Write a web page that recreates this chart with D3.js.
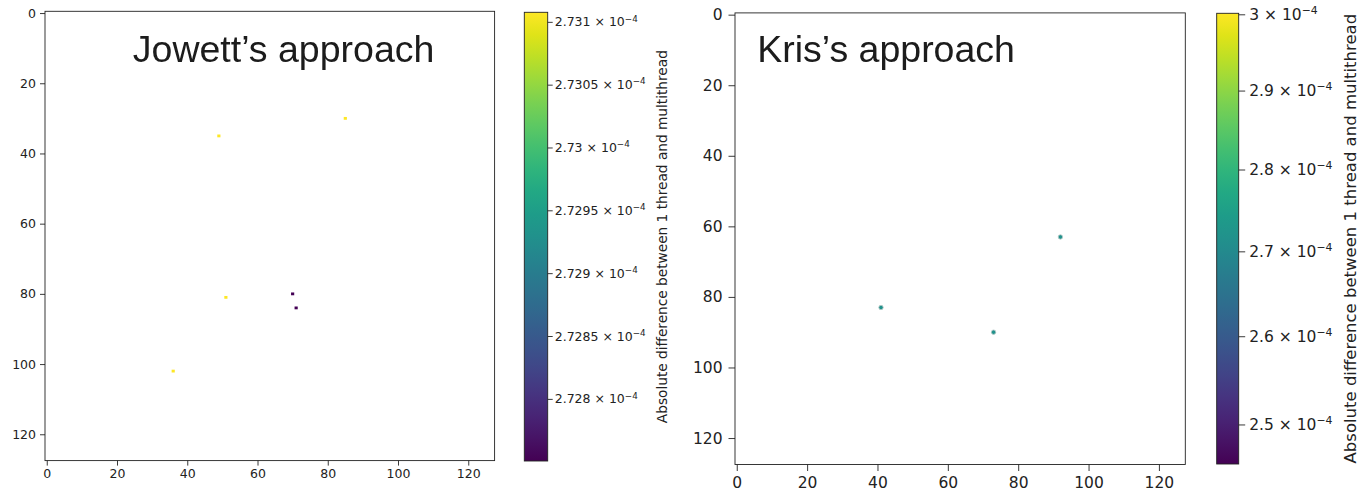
<!DOCTYPE html>
<html>
<head>
<meta charset="utf-8">
<script src="https://cdn.jsdelivr.net/npm/d3@7"></script>
<style>
  body { margin: 0; background: #fff; }
  svg { display: block; }
  text { font-family: "DejaVu Sans", sans-serif; fill: #222; }
  .title { font-family: "Liberation Sans", Arial, sans-serif; fill: #1a1a1a; }
</style>
</head>
<body>
<svg id="chart" width="1372" height="493"></svg>
<script>
// image size (pixels) and tick values
var gridSize = 128;
var axisTicks = [0, 20, 40, 60, 80, 100, 120];

// Jowett: non-zero pixels [col, row, value]
var jowettCols = [49, 85, 51, 36, 70, 71];
var jowettRows = [35, 30, 81, 102, 80, 84];
var jowettVals = [2.73108e-4, 2.73108e-4, 2.73108e-4, 2.73108e-4, 2.72751e-4, 2.72751e-4];
var jowettRange = [2.72751e-4, 2.73108e-4];
var jowettCbTicks = [2.728, 2.7285, 2.729, 2.7295, 2.73, 2.7305, 2.731];

// Kris: non-zero pixels
var krisCols = [41, 73, 92];
var krisRows = [83, 90, 63];
var krisVals = [2.72e-4, 2.72e-4, 2.72e-4];
var krisRange = [2.457e-4, 3.002e-4];
var krisCbTicks = [2.5, 2.6, 2.7, 2.8, 2.9, 3];

var cbLabel = "Absolute difference between 1 thread and multithread";

var svg = d3.select("#chart");

// shared viridis gradient for the colorbars
var defs = svg.append("defs");
var grad = defs.append("linearGradient").attr("id", "viridis")
    .attr("x1", 0).attr("y1", 1).attr("x2", 0).attr("y2", 0);
d3.range(0, 1.0001, 0.05).forEach(function(t) {
  grad.append("stop").attr("offset", t).attr("stop-color", d3.interpolateViridis(t));
});
defs.append("filter").attr("id", "soft")
  .append("feGaussianBlur").attr("stdDeviation", 0.55);

function drawPanel(p) {
  var x = d3.scaleLinear().domain([-0.5, gridSize - 0.5]).range([p.left, p.right]);
  var y = d3.scaleLinear().domain([-0.5, gridSize - 0.5]).range([p.top, p.bottom]);
  var g = svg.append("g");

  // title is part of the picture
  g.append("text").attr("class", "title")
    .attr("x", x(p.titleX)).attr("y", y(p.titleY))
    .attr("filter", "url(#soft)")
    .style("font-size", "37.5px")
    .text(p.title);

  var color = d3.scaleSequentialLog(d3.interpolateViridis).domain(p.range);
  var pts = p.cols.map(function(c, i) { return {c: c, r: p.rows[i], v: p.vals[i]}; });

  if (p.dots) {
    g.selectAll("circle.pt").data(pts).enter().append("circle")
      .attr("cx", function(d) { return x(d.c); })
      .attr("cy", function(d) { return y(d.r); })
      .attr("r", 2.2)
      .attr("fill", function(d) { return color(d.v); })
      .attr("stroke", "#b9c9c7").attr("stroke-width", 0.8);
  } else {
    g.selectAll("rect.pt").data(pts).enter().append("rect")
      .attr("x", function(d) { return x(d.c - 0.45); })
      .attr("y", function(d) { return y(d.r - 0.4); })
      .attr("width", x(0.9) - x(0))
      .attr("height", y(0.8) - y(0))
      .attr("fill", function(d) { return color(d.v); });
  }

  // axes
  var xAxis = d3.axisBottom(x).tickValues(axisTicks).tickSize(p.tick).tickPadding(p.pad);
  var yAxis = d3.axisLeft(y).tickValues(axisTicks).tickSize(p.tick).tickPadding(p.pad);
  var gx = g.append("g").attr("transform", "translate(0," + p.bottom + ")").call(xAxis);
  var gy = g.append("g").attr("transform", "translate(" + p.left + ",0)").call(yAxis);
  [gx, gy].forEach(function(a) {
    a.select(".domain").remove();
    a.selectAll("line").attr("stroke", "#222").attr("stroke-width", 0.9);
    a.selectAll("text").style("font-size", p.font + "px").style("font-family", "DejaVu Sans").attr("fill", "#222");
  });
  g.append("rect").attr("x", p.left).attr("y", p.top)
    .attr("width", p.right - p.left).attr("height", p.bottom - p.top)
    .attr("fill", "none").attr("stroke", "#222").attr("stroke-width", 0.9);

  // colorbar
  var cb = svg.append("g");
  cb.append("rect").attr("x", p.cbLeft).attr("y", p.cbTop)
    .attr("width", p.cbW).attr("height", p.cbBottom - p.cbTop)
    .attr("fill", "url(#viridis)").attr("stroke", "#222").attr("stroke-width", 0.9);
  var cy = d3.scaleLog().domain(p.range).range([p.cbBottom, p.cbTop]);
  var ticks = cb.selectAll("g.cbt").data(p.cbTicks).enter().append("g")
    .attr("transform", function(d) { return "translate(" + (p.cbLeft + p.cbW) + "," + cy(d * 1e-4) + ")"; });
  ticks.append("line").attr("x2", p.tick).attr("stroke", "#222").attr("stroke-width", 0.9);
  var lbl = ticks.append("text").attr("x", p.tick + p.cbPad).attr("dy", "0.32em")
    .style("font-size", p.cbFont + "px");
  lbl.append("tspan").text(function(d) { return d + " \u00d7 10"; });
  lbl.append("tspan").attr("dy", "-0.55em").style("font-size", (p.cbFont * 0.7) + "px").text("\u22124");

  cb.append("text")
    .attr("transform", "translate(" + p.cbLabelX + "," + ((p.cbTop + p.cbBottom) / 2) + ") rotate(-90)")
    .attr("text-anchor", "middle")
    .style("font-size", p.cbLabelFont + "px")
    .text(cbLabel);
}

drawPanel({
  title: "Jowett\u2019s approach", titleX: 24.5, titleY: 13.9,
  cols: jowettCols, rows: jowettRows, vals: jowettVals, range: jowettRange, dots: false,
  left: 45, right: 494.6, top: 11.3, bottom: 460.6,
  tick: 5, pad: 4, font: 12.5,
  cbLeft: 524.3, cbW: 23.4, cbTop: 12.3, cbBottom: 461, cbTicks: jowettCbTicks, cbFont: 12.5, cbPad: 2,
  cbLabelX: 667, cbLabelFont: 13.7
});

drawPanel({
  title: "Kris\u2019s approach", titleX: 5.8, titleY: 13.3,
  cols: krisCols, rows: krisRows, vals: krisVals, range: krisRange, dots: true,
  left: 735, right: 1185.3, top: 12.9, bottom: 464.5,
  tick: 6.5, pad: 6, font: 15.5,
  cbLeft: 1216.7, cbW: 22, cbTop: 13.3, cbBottom: 464, cbTicks: krisCbTicks, cbFont: 15.5, cbPad: 4,
  cbLabelX: 1356, cbLabelFont: 16.5
});
</script>
</body>
</html>
